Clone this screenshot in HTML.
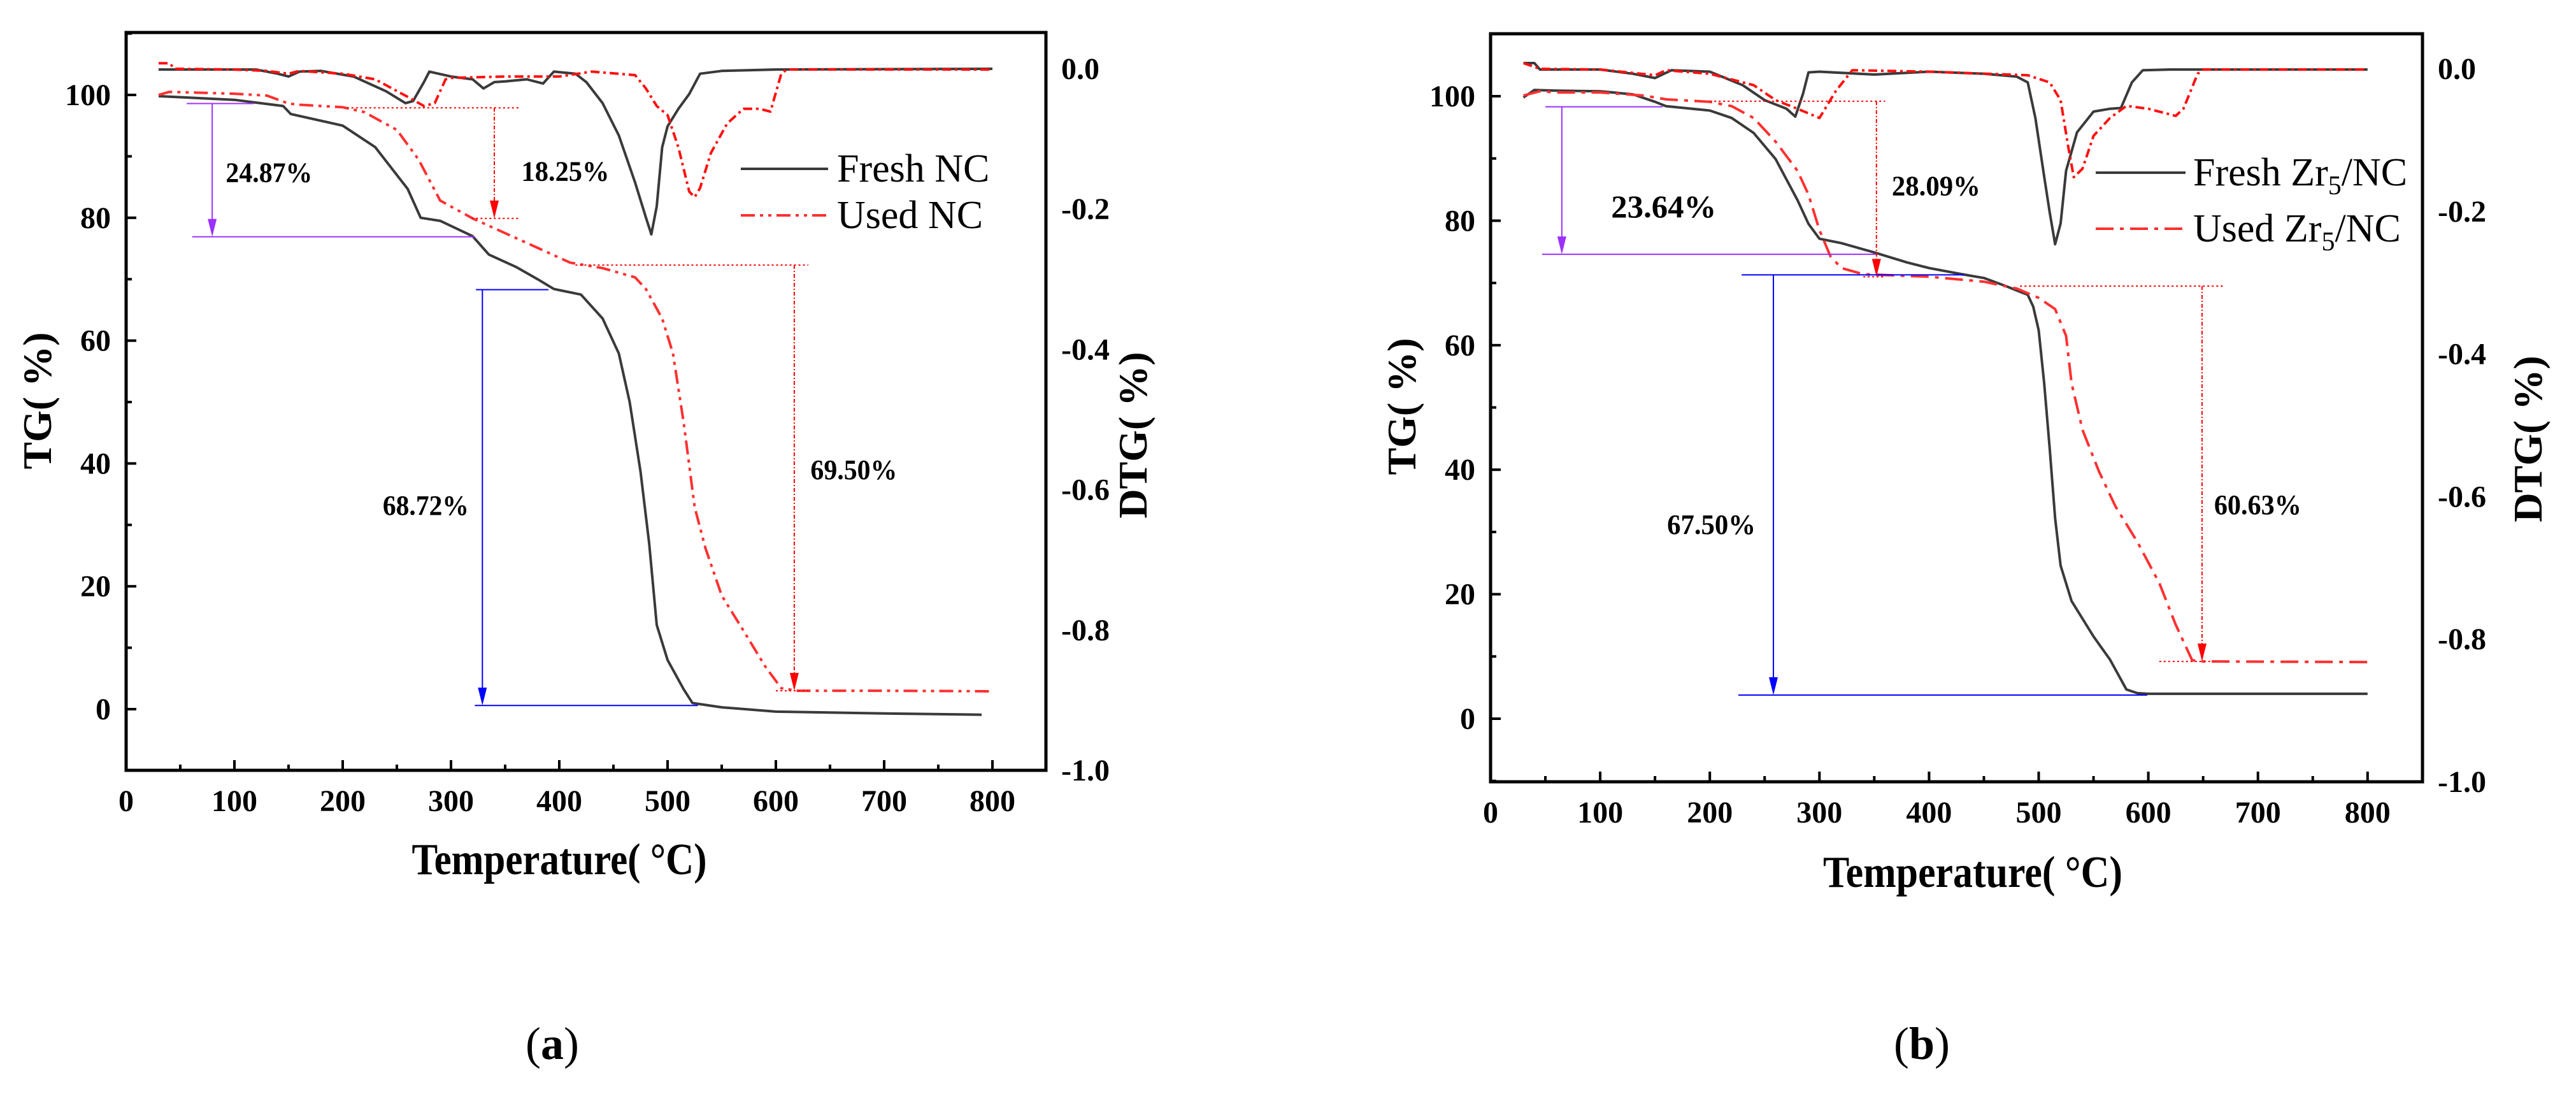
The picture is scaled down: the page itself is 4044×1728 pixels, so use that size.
<!DOCTYPE html>
<html><head><meta charset="utf-8"><style>
html,body{margin:0;padding:0;background:#fff;}
svg{display:block;font-family:"Liberation Serif",serif;}
</style></head><body>
<svg id="fig" width="4044" height="1728" viewBox="0 0 4044 1728" xmlns="http://www.w3.org/2000/svg"></svg>
<script>
// ---------- Panel A data ----------
const aFreshTG_T=[30,100,145,152,200,230,260,272,290,320,330,335,360,380,395,420,440,455,465,475,483,490,500,515,523,550,600,700,790];
const aFreshTG_V=[99.8,99.2,98.2,96.9,95,91.5,84.7,80,79.5,77,75,74,72,70,68.4,67.5,63.6,57.9,50,38.7,27,13.7,8,3.2,1,0.3,-0.4,-0.7,-0.9];
const aUsedTG_T=[30,40,100,130,150,160,200,220,250,270,290,320,350,380,410,440,470,480,495,505,515,525,535,550,570,590,605,620,700,800];
const aUsedTG_V=[100,100.5,100.2,99.9,98.6,98.4,98,97.2,94.3,89.5,82.8,79.9,77.5,75.1,72.7,71.8,70.3,68.4,63.6,57.9,46.5,32.9,26.2,18.5,12.8,7,3.4,3,3,2.9];
const aFreshDTG_T=[30,120,140,150,160,180,210,240,258,265,275,280,300,320,330,340,350,370,385,395,415,425,440,455,470,480,485,490,495,500,510,520,530,550,600,800];
const aFreshDTG_V=[-0.001,-0.001,-0.007,-0.011,-0.004,-0.003,-0.011,-0.032,-0.049,-0.046,-0.019,-0.004,-0.011,-0.015,-0.028,-0.019,-0.018,-0.015,-0.021,-0.004,-0.007,-0.019,-0.049,-0.095,-0.162,-0.212,-0.236,-0.196,-0.112,-0.082,-0.057,-0.036,-0.007,-0.003,-0.001,0];
const aUsedDTG_T=[30,40,45,100,130,150,160,200,230,260,275,285,295,300,350,400,430,470,480,490,500,510,520,525,530,540,555,570,585,595,605,610,800];
const aUsedDTG_V=[0.008,0.008,0,-0.001,-0.003,-0.007,-0.003,-0.007,-0.015,-0.04,-0.053,-0.049,-0.015,-0.013,-0.011,-0.011,-0.004,-0.009,-0.028,-0.053,-0.066,-0.112,-0.175,-0.183,-0.17,-0.12,-0.078,-0.057,-0.057,-0.061,-0.007,-0.001,-0.001];
// ---------- Panel B data ----------
const bFreshTG_T=[30,40,60,100,130,150,160,200,220,240,260,280,290,300,320,350,380,400,430,450,470,490,495,500,505,510,515,520,530,550,565,580,590,600,800];
const bFreshTG_V=[99.8,101,100.9,100.8,100.3,99.1,98.4,97.7,96.5,94.1,89.9,83.3,79.5,77.1,76.4,74.9,73.3,72.4,71.4,70.8,69.5,68.1,66.2,62.4,53.9,43.5,32.2,24.6,18.9,13.2,9.5,4.7,4.1,4,4];
const bUsedTG_T=[30,45,60,100,140,160,200,220,240,260,280,290,300,310,320,340,400,450,480,500,515,525,530,540,555,570,590,610,625,640,650,800];
const bUsedTG_V=[100.1,100.8,100.6,100.6,100.1,99.5,99.1,98.4,96.5,92.7,88,84.2,78.5,74.3,72.4,71.4,71,70.2,69.1,67.6,65.8,61.5,53.9,46.4,39.7,34.1,28.4,21.8,15.1,9.4,9.2,9.1];
const bFreshDTG_T=[30,40,45,100,130,150,165,200,230,250,270,278,285,290,300,350,400,450,480,490,497,505,510,515,520,525,535,550,565,575,585,595,620,800];
const bFreshDTG_V=[0.008,0.008,-0.001,-0.001,-0.007,-0.013,-0.002,-0.004,-0.023,-0.044,-0.056,-0.067,-0.035,-0.005,-0.004,-0.008,-0.004,-0.007,-0.011,-0.019,-0.069,-0.151,-0.201,-0.246,-0.217,-0.143,-0.089,-0.060,-0.056,-0.055,-0.019,-0.002,-0.001,-0.001];
const bUsedDTG_T=[30,45,100,150,160,200,240,260,280,300,315,330,400,490,510,520,527,532,540,550,565,580,600,625,632,645,650,800];
const bUsedDTG_V=[0.008,0,-0.001,-0.009,-0.002,-0.007,-0.023,-0.044,-0.056,-0.069,-0.031,-0.002,-0.004,-0.009,-0.019,-0.044,-0.110,-0.152,-0.140,-0.094,-0.069,-0.052,-0.056,-0.066,-0.056,-0.007,-0.001,-0.001];
const xTicks=[0,100,200,300,400,500,600,700,800];
const yTicks=[0,20,40,60,80,100];
const dtgTicks=[0,-0.2,-0.4,-0.6,-0.8,-1.0];
const dtgLabels=["0.0","-0.2","-0.4","-0.6","-0.8","-1.0"];

const NS="http://www.w3.org/2000/svg";
const svg=document.getElementById('fig');
function mk(tag,attrs,parent){const e=document.createElementNS(NS,tag);for(const k in attrs)e.setAttribute(k,attrs[k]);(parent||svg).appendChild(e);return e;}
function txt(s,attrs,parent){const e=mk('text',attrs,parent);e.textContent=s;return e;}

function panel(P){
  const g=mk('g',{});
  
  
  const X=t=>P.x0+t*P.xs, Y=v=>P.y0-v*P.ys, D=v=>P.d0-v*P.ds;
  // ticks
  xTicks.forEach((t,i)=>{
    const l=mk('line',{x1:X(t),x2:X(t),y1:P.bot,y2:P.bot-16,stroke:'#000','stroke-width':4},g);
    
    if(i<xTicks.length-1){mk('line',{x1:X(t+50),x2:X(t+50),y1:P.bot,y2:P.bot-9,stroke:'#000','stroke-width':4},g);}
    const tl=txt(String(t),{x:X(t),y:P.bot+64,'text-anchor':'middle','font-size':48,'font-weight':'bold'},g);
    
  });
  yTicks.forEach(v=>{
    const l=mk('line',{x1:P.x0,x2:P.x0+16,y1:Y(v),y2:Y(v),stroke:'#000','stroke-width':4},g);
    
    mk('line',{x1:P.x0,x2:P.x0+9,y1:Y(v+10),y2:Y(v+10),stroke:'#000','stroke-width':4},g);
    const tl=txt(String(v),{x:P.x0-24,y:Y(v)+16,'text-anchor':'end','font-size':48,'font-weight':'bold'},g);
    
  });
  mk('line',{x1:P.x0,x2:P.x0+9,y1:Y(-10)-0,y2:Y(-10),stroke:'#000','stroke-width':4},g);
  dtgTicks.forEach((v,i)=>{
    const tl=txt(dtgLabels[i],{x:P.right+24,y:D(v)+16,'font-size':48,'font-weight':'bold'},g);
    
  });
  // frame
  const fr=mk('rect',{x:P.x0,y:P.top,width:P.right-P.x0,height:P.bot-P.top,fill:'none',stroke:'#000','stroke-width':5},g);
  
  // series
  function series(T,V,fy,color,dash,name,w){
    const p=mk('polyline',{points:T.map((t,i)=>X(t).toFixed(1)+','+fy(V[i]).toFixed(1)).join(' '),fill:'none',stroke:color,'stroke-width':w||4,'stroke-linejoin':'round','stroke-dasharray':dash||'none'},g);
    
  }
  series(P.fT,P.fV,Y,'#3a3a3a',null,'fresh-tg-line');
  series(P.uT,P.uV,Y,'#ff3030',P.dashTG,'used-tg-line');
  series(P.fdT,P.fdV,D,'#3a3a3a',null,'fresh-dtg-line');
  series(P.udT,P.udV,D,'#ff1010',P.dashDTG,'used-dtg-line');
  // annotations
  P.ann.forEach(a=>{
    const ag=mk('g',{},g);
    
    const da=a.dot?'3 4':'none';
    mk('line',{x1:X(a.h1[0]),x2:X(a.h1[1]),y1:Y(a.h1[2]),y2:Y(a.h1[2]),stroke:a.c,'stroke-width':2,'stroke-dasharray':da},ag);
    mk('line',{x1:X(a.h2[0]),x2:X(a.h2[1]),y1:Y(a.h2[2]),y2:Y(a.h2[2]),stroke:a.c,'stroke-width':2,'stroke-dasharray':da},ag);
    const vx=X(a.v[0]),ya=Y(a.v[1]),yb=Y(a.v[2]);
    mk('line',{x1:vx,x2:vx,y1:ya,y2:yb-22,stroke:a.c,'stroke-width':2,'stroke-dasharray':a.dot?'6 3 2 3':'none'},ag);
    mk('polygon',{points:`${vx-7},${yb-28} ${vx+7},${yb-28} ${vx},${yb}`,fill:a.c},ag);
    const t=txt(a.label,{x:X(a.lt[0]),y:Y(a.lt[1])+15,'font-size':a.fs||44,'font-weight':'bold',textLength:a.lw,lengthAdjust:'spacingAndGlyphs'},ag);
    
  });
  // legend
  const lg=mk('g',{},g);
  
  P.leg.forEach((L,i)=>{
    const e=mk('g',{},lg);
    
    mk('line',{x1:P.legX1,x2:P.legX2,y1:L.y,y2:L.y,stroke:L.c,'stroke-width':4,'stroke-dasharray':L.d||'none'},e);
    const t=mk('text',{x:P.legTX,y:L.y+20,'font-size':62},e);
    t.innerHTML=L.html;
  });
  // axis titles
  const xt=txt('Temperature( °C)',{x:P.xtX,y:P.xtY,'text-anchor':'middle','font-size':70,'font-weight':'bold',textLength:P.xtW,lengthAdjust:'spacingAndGlyphs'},g);
  
  const yt=txt('TG( %)',{x:0,y:0,'text-anchor':'middle','font-size':64,'font-weight':'bold',transform:`translate(${P.ytX},${P.ytY}) rotate(-90)`},g);
  
  const y2=txt('DTG( %)',{x:0,y:0,'text-anchor':'middle','font-size':64,'font-weight':'bold',transform:`translate(${P.y2X},${P.y2Y}) rotate(-90)`},g);
  
  const pl=mk('text',{x:P.plX,y:1662,'text-anchor':'middle','font-size':72},g);
  pl.innerHTML='(<tspan font-weight="bold">'+P.pl+'</tspan>)';
  
}

panel({name:'panel-a',x0:198,xs:1.7,y0:1113,ys:9.64,d0:108,ds:1101,top:51,bot:1209,right:1642,
  fT:aFreshTG_T,fV:aFreshTG_V,uT:aUsedTG_T,uV:aUsedTG_V,fdT:aFreshDTG_T,fdV:aFreshDTG_V,udT:aUsedDTG_T,udV:aUsedDTG_V,
  dashTG:'22 8 5 8 5 8',dashDTG:'14 6 4 6',
  ann:[
    {c:'#9b30ff',h1:[56,118,98.6],v:[79.5,98.6,76.9],h2:[61,322,76.9],label:'24.87%',lt:[92,87.4],lw:136},
    {c:'#ff0000',dot:true,h1:[204,364,97.9],v:[340,97.9,79.9],h2:[319,364,79.9],label:'18.25%',lt:[365,87.6],lw:138},
    {c:'#0000ff',h1:[323,390,68.3],v:[329,68.3,0.6],h2:[322,528,0.6],label:'68.72%',lt:[237,33.2],lw:135},
    {c:'#ff0000',dot:true,h1:[415,630,72.3],v:[617,72.3,3],h2:[600,630,3],label:'69.50%',lt:[632,39],lw:136}
  ],
  legX1:1163,legX2:1300,legTX:1314,leg:[{y:265,c:'#3a3a3a',html:'Fresh NC'},{y:338,c:'#ff3030',d:'22 8 5 8 5 8',html:'Used NC'}],
  xtX:878,xtY:1372,xtW:463,ytX:80,ytY:629,y2X:1800,y2Y:683,plX:867,pl:'a'});

panel({name:'panel-b',x0:2340,xs:1.721,y0:1128,ys:9.77,d0:108,ds:1119,top:53,bot:1227,right:3803,
  fT:bFreshTG_T,fV:bFreshTG_V,uT:bUsedTG_T,uV:bUsedTG_V,fdT:bFreshDTG_T,fdV:bFreshDTG_V,udT:bUsedDTG_T,udV:bUsedDTG_V,
  dashTG:'28 10 6 10',dashDTG:'14 6 4 6',
  ann:[
    {c:'#9b30ff',h1:[50,157,98.3],v:[65,98.3,74.6],h2:[47,353,74.6],label:'23.64%',lt:[110,82.1],lw:165,fs:50},
    {c:'#ff0000',dot:true,h1:[200,360,99.2],v:[352,99.2,71],h2:[340,360,71],label:'28.09%',lt:[366,85.6],lw:139},
    {c:'#0000ff',h1:[229,432,71.3],v:[258,71.3,3.8],h2:[226,599,3.8],label:'67.50%',lt:[161,31.2],lw:139},
    {c:'#ff0000',dot:true,h1:[483,668,69.5],v:[649,69.5,9.2],h2:[610,657,9.2],label:'60.63%',lt:[660,34.4],lw:137}
  ],
  legX1:3290,legX2:3431,legTX:3443,leg:[{y:271,c:'#3a3a3a',html:'Fresh Zr<tspan font-size="42" dy="14">5</tspan><tspan dy="-14">/NC</tspan>'},{y:359,c:'#ff3030',d:'28 10 6 10',html:'Used Zr<tspan font-size="42" dy="14">5</tspan><tspan dy="-14">/NC</tspan>'}],
  xtX:3097,xtY:1392,xtW:470,ytX:2222,ytY:638,y2X:3990,y2Y:689,plX:3017,pl:'b'});
</script>
</body></html>
